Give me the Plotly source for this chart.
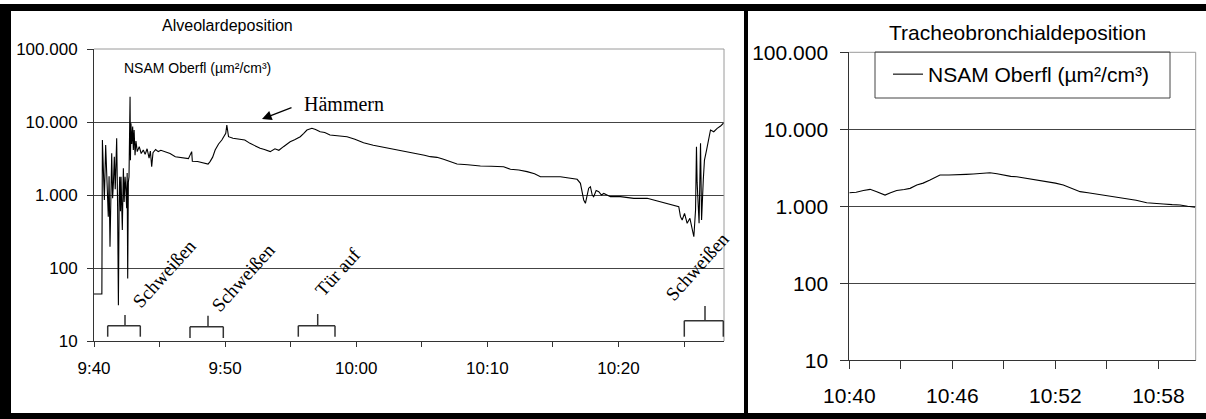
import plotly.graph_objects as go
import pandas as pd

W, H = 1206, 419


def X(p):
    return p / W


def Y(p):
    return 1 - p / H


# ---------------- data ----------------
# left chart: minutes after 9:40, NSAM surface (µm²/cm³)
left_minutes = [0.0, 0.55, 0.6, 0.64, 0.79, 0.89, 0.99, 1.09, 1.15, 1.22, 1.35, 1.42, 1.48, 1.55, 1.62,
                1.73, 1.80, 1.86, 1.92, 1.96, 2.02, 2.06, 2.16, 2.24, 2.30, 2.37, 2.43, 2.49, 2.53,
                2.57, 2.62, 2.67, 2.75, 2.78, 2.82, 2.88, 2.95, 3.0, 3.06, 3.13, 3.2, 3.3, 3.45, 3.6,
                3.76, 3.9, 4.05, 4.2, 4.3, 4.4, 4.5, 4.7, 4.9, 5.1, 5.4, 5.8, 6.2, 6.6, 6.95, 7.2,
                7.45, 7.5, 7.9, 8.2, 8.47, 8.7, 8.85, 9.05, 9.24, 9.5, 9.75, 9.95, 10.05, 10.13, 10.2,
                10.26, 10.6, 11.0, 11.5, 11.9, 12.3, 12.67, 13.0, 13.44, 13.8, 14.1, 14.45, 14.96,
                15.3, 15.73, 16.0, 16.24, 16.62, 16.9, 17.25, 17.6, 18.0, 18.6, 19.3, 19.9, 20.56,
                21.3, 22.1, 22.7, 23.36, 24.0, 24.63, 25.2, 25.65, 26.16, 26.66, 27.18, 27.69, 28.5,
                29.47, 30.3, 31.24, 31.76, 32.4, 33.03, 33.6, 34.05, 34.7, 35.32, 35.57, 36.2, 36.85,
                37.1, 37.23, 37.35, 37.48, 37.61, 37.73, 37.86, 38.0, 38.11, 38.3, 38.5, 38.7, 38.88,
                39.39, 40.15, 41.17, 42.19, 43.21, 44.22, 44.6, 44.73, 44.86, 45.04, 45.24, 45.45,
                45.75, 45.88, 45.95, 46.0, 46.05, 46.15, 46.26, 46.34, 46.47, 46.56, 46.72, 46.89,
                47.02, 47.27, 47.53, 47.79, 48.04]
left_values = [44, 44, 44, 5660, 855, 4840, 1300, 505, 1800, 196, 3720, 900, 1445, 3350, 1200,
               5990, 700, 31, 900, 1780, 600, 1780, 332, 2320, 800, 1780, 1200, 658, 2000,
               72, 1500, 1780, 22200, 3000, 9600, 5000, 8640, 4130, 7770, 3500, 5500, 3930, 4600, 3700,
               4130, 3600, 4300, 3200, 4000, 2440, 3800, 4200, 3930, 4100, 3930, 3700, 3350, 3300, 3190, 3150,
               3930, 2900, 2870, 2800, 2720, 2650, 2870, 3300, 4130, 5000, 5660, 6500, 7000, 9100, 6800,
               6290, 6000, 5900, 5660, 5100, 4700, 4370, 4200, 3930, 4300, 4100, 4590, 5370,
               5700, 6290, 7000, 7770, 8190, 7900, 7360, 7200, 6640, 6500, 6290, 5800, 5210,
               4800, 4500, 4300, 4130, 3950, 3720, 3500, 3350, 3280, 3080, 2870, 2660, 2600,
               2500, 2480, 2440, 2250, 2200, 2090, 1950, 1780, 1800, 1780, 1780, 1700, 1640,
               1445, 1110, 855, 770, 1050, 1240, 1300, 1000, 950, 1150, 1110, 1000, 1050,
               950, 950, 900, 900, 810, 730, 690, 505, 455, 560, 410, 480,
               268, 624, 4590, 1500, 950, 410, 5100, 455, 1600, 3010, 4130, 6290,
               7770, 7360, 8190, 8810, 9770]

# right chart: minutes after 10:40
right_minutes = [0, 0.4, 0.82, 1.21, 1.6, 2.08, 2.4, 2.76, 3.2, 3.54, 3.93, 4.3, 4.7, 5.28, 5.8, 6.26,
                 6.8, 7.22, 7.7, 8.19, 8.6, 8.97, 9.4, 9.75, 10.1, 10.52, 11.0, 11.5, 12.0, 12.46, 13.0,
                 13.44, 13.9, 14.41, 14.9, 15.38, 15.8, 16.16, 16.7, 17.32, 17.8, 18.29, 18.8, 19.26,
                 19.7, 20.13]
right_values = [1500, 1520, 1600, 1660, 1550, 1400, 1500, 1600, 1650, 1710, 1890, 2000, 2200, 2550, 2550,
                2550, 2600, 2630, 2650, 2730, 2650, 2550, 2450, 2420, 2350, 2310, 2200, 2090, 2000, 1890,
                1700, 1550, 1500, 1445, 1400, 1330, 1300, 1270, 1200, 1110, 1080, 1070, 1050, 1040,
                1000, 970]

y_tickvals = [10, 100, 1000, 10000, 100000]
y_ticktext = ["10", "100", "1.000", "10.000", "100.000"]

left_tick_minutes = [0, 5, 10, 15, 20, 25, 30, 35, 40, 45]
left_tick_text = ["9:40", "", "9:50", "", "10:00", "", "10:10", "", "10:20", ""]
right_tick_minutes = [0, 3, 6, 9, 12, 15, 18]
right_tick_text = ["10:40", "", "10:46", "", "10:52", "", "10:58"]

series_name = "NSAM Oberfl (µm²/cm³)"

# ---------------- build ----------------
base_l = pd.Timestamp("2008-01-01 09:40:00")
base_r = pd.Timestamp("2008-01-01 10:40:00")


def tm(base, mins):
    return [(base + pd.Timedelta(minutes=m)).strftime("%Y-%m-%d %H:%M:%S.%f") for m in mins]


AX_FONT = "Arial, Liberation Sans, sans-serif"
SERIF = "Times New Roman, Liberation Serif, serif"
DARK = "#333333"
GRID = "#444444"

fig = go.Figure()
fig.add_trace(go.Scatter(x=tm(base_l, left_minutes), y=left_values, mode="lines",
                         line=dict(color="black", width=1.1), showlegend=False,
                         name=series_name, xaxis="x", yaxis="y"))
fig.add_trace(go.Scatter(x=tm(base_r, right_minutes), y=right_values, mode="lines",
                         line=dict(color="black", width=1.1), showlegend=True,
                         name=series_name, xaxis="x2", yaxis="y2"))

common_y = dict(type="log", range=[1, 5], tickvals=y_tickvals, ticktext=y_ticktext,
                ticks="outside", tickcolor=DARK, showline=True, linecolor=DARK, linewidth=1,
                showgrid=True, gridcolor=GRID, gridwidth=1, zeroline=False, automargin=False)

fig.update_layout(
    template="none",
    width=W, height=H, autosize=False,
    margin=dict(l=0, r=0, t=0, b=0, pad=0),
    paper_bgcolor="white", plot_bgcolor="white",
    font=dict(family=AX_FONT, color="#000000"),
    xaxis=dict(domain=[X(94), X(724)], type="date", anchor="y",
               range=tm(base_l, [0, 48.05]),
               tickvals=tm(base_l, left_tick_minutes), ticktext=left_tick_text,
               ticks="outside", ticklen=5, tickcolor=DARK, showline=True, linecolor=DARK,
               showgrid=False, zeroline=False, tickfont=dict(size=17), ticklabelstandoff=7,
               automargin=False),
    yaxis=dict(domain=[Y(341), Y(49)], anchor="x", ticklen=6, tickfont=dict(size=17),
               ticklabelstandoff=6, **common_y),
    xaxis2=dict(domain=[X(849.3), X(1195.7)], type="date", anchor="y2",
                range=tm(base_r, [0, 20.17]),
                tickvals=tm(base_r, right_tick_minutes), ticktext=right_tick_text,
                ticks="outside", ticklen=8, tickcolor=DARK, showline=True, linecolor=DARK,
                showgrid=False, zeroline=False, tickfont=dict(size=21), ticklabelstandoff=8,
                automargin=False),
    yaxis2=dict(domain=[Y(360.3), Y(52.3)], anchor="x2", ticklen=8, tickfont=dict(size=21),
                ticklabelstandoff=8, **common_y),
    legend=dict(x=X(888), y=Y(54), xanchor="left", yanchor="top",
                bgcolor="rgba(0,0,0,0)", borderwidth=0,
                font=dict(size=21, family=AX_FONT)),
)

shapes = []


def line(x0, y0, x1, y1, color=DARK, width=1.5):
    shapes.append(dict(type="line", xref="paper", yref="paper",
                       x0=X(x0), y0=Y(y0), x1=X(x1), y1=Y(y1),
                       line=dict(color=color, width=width), layer="above"))


def rect(x0, y0, x1, y1, fill="black"):
    shapes.append(dict(type="rect", xref="paper", yref="paper",
                       x0=X(x0), y0=Y(y0), x1=X(x1), y1=Y(y1),
                       line=dict(width=0), fillcolor=fill, layer="above"))


# plot area borders (top/right, grey)
line(94, 49, 724, 49, "#9a9a9a", 1)
line(724, 49, 724, 341, "#9a9a9a", 1)
line(849.3, 52.3, 1195.7, 52.3, "#9a9a9a", 1)
line(1195.7, 52.3, 1195.7, 360.3, "#9a9a9a", 1)

# brackets marking events
for (xl, xr, xs, yh, yb, ys) in [(107.7, 140.3, 125, 325.7, 336.7, 315),
                                   (190, 223.3, 208, 326.7, 338, 315.7),
                                   (298.3, 335, 317.7, 325.7, 336.7, 314),
                                   (684.3, 723.3, 705, 320.7, 336.7, 306)]:
    line(xl, yh, xr, yh)
    line(xl, yh, xl, yb)
    line(xr, yh, xr, yb)
    line(xs, yh, xs, ys)

# legend box (right chart)
shapes.append(dict(type="rect", xref="paper", yref="paper", x0=X(875), y0=Y(98), x1=X(1170), y1=Y(52),
                   line=dict(color="#444444", width=1), fillcolor="rgba(0,0,0,0)", layer="above"))

# frame
rect(0, 4, 1206, 11)
rect(0, 4, 11, 419)
rect(0, 413, 1206, 419)
rect(744, 4, 748, 419)

fig.update_layout(shapes=shapes)

ann = []


def text(t, x, y, size, family=AX_FONT, angle=0):
    ann.append(dict(text=t, xref="paper", yref="paper", x=X(x), y=Y(y), xanchor="center",
                    yanchor="middle", showarrow=False, textangle=angle,
                    font=dict(size=size, family=family, color="#000000")))


text("Alveolardeposition", 227, 25, 16)
text(series_name, 197, 68, 14)
text("Tracheobronchialdeposition", 1017, 32, 21)
ann.append(dict(text="Hämmern", xref="paper", yref="paper", x=X(302), y=Y(104), xanchor="left",
                yanchor="middle", showarrow=False, font=dict(size=20, family=SERIF, color="#000000")))
ann.append(dict(text="", xref="paper", yref="paper", x=X(262), y=Y(119), ax=31, ay=-12,
                showarrow=True, arrowhead=2, arrowsize=1.6, arrowwidth=1.2, arrowcolor="#000000"))
text("Schweißen", 164, 273, 19, SERIF, -48)
text("Schweißen", 243, 277, 19, SERIF, -48)
text("Tür auf", 337, 272, 19, SERIF, -48)
text("Schweißen", 697, 266, 19, SERIF, -48)

fig.update_layout(annotations=ann)

fig.write_html("out.html")
